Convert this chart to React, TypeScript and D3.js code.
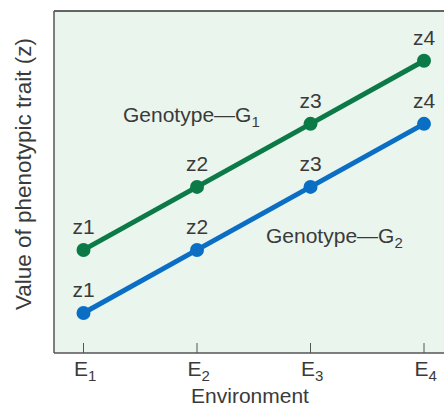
import React from "react";
import * as d3 from "d3";

const environments = ["E1", "E2", "E3", "E4"];
const envSubs = ["1", "2", "3", "4"];
const g1Values = [2, 3, 4, 5];
const g2Values = [1, 2, 3, 4];
const g1Labels = ["z1", "z2", "z3", "z4"];
const g2Labels = ["z1", "z2", "z3", "z4"];

const W = 444;
const H = 407;
const left = 54;
const top = 11;
const bottom = 353;
const right = 444;

export default function App() {
  const x = d3.scalePoint<string>().domain(environments).range([83.5, 424]);
  const y = d3.scaleLinear().domain([0.365, 5.79]).range([bottom, top]);
  const line = d3
    .line<number>()
    .x((_, i) => x(environments[i]) as number)
    .y((d) => y(d));
  const green = "#0b7a47";
  const blue = "#0a6fc4";
  const font = "'Liberation Sans', Arial, sans-serif";
  const txt = "#3a3a3a";
  const fs = 21;
  const sub = 15;

  const series = [
    { vals: g1Values, labels: g1Labels, color: green },
    { vals: g2Values, labels: g2Labels, color: blue },
  ];

  return (
    <svg
      width={W}
      height={H}
      style={{ position: "absolute", left: 0, top: 0 }}
      fontFamily={font}
    >
      <rect x={left} y={top} width={right - left} height={bottom - top} fill="#eaf5ee" />
      <line x1={left} x2={right} y1={top} y2={top} stroke="#333" strokeWidth={1.5} />
      <line x1={left} x2={left} y1={top} y2={bottom} stroke="#555" strokeWidth={1.5} />
      <line x1={left} x2={right} y1={bottom} y2={bottom} stroke="#555" strokeWidth={1.5} />
      {environments.map((e, i) => (
        <g key={e}>
          <line
            x1={x(e)}
            x2={x(e)}
            y1={bottom}
            y2={bottom - 10}
            stroke="#555"
            strokeWidth={1}
          />
          <text
            x={(x(e) as number) - 9.5}
            y={bottom + 23}
            fontSize={fs}
            fill={txt}
          >
            E
            <tspan fontSize={sub} dy={5}>
              {envSubs[i]}
            </tspan>
          </text>
        </g>
      ))}
      <text x={250} y={403} fontSize={fs} fill={txt} textAnchor="middle">
        Environment
      </text>
      <text
        transform={`translate(31, 174) rotate(-90)`}
        fontSize={22.5}
        fill={txt}
        textAnchor="middle"
      >
        Value of phenotypic trait (z)
      </text>
      {series.map((s, si) => (
        <g key={si}>
          <path d={line(s.vals) || ""} fill="none" stroke={s.color} strokeWidth={5} />
          {s.vals.map((v, i) => (
            <g key={i}>
              <circle cx={x(environments[i])} cy={y(v)} r={7} fill={s.color} />
              <text
                x={x(environments[i])}
                y={y(v) - 16}
                fontSize={fs}
                fill={txt}
                textAnchor="middle"
              >
                {s.labels[i]}
              </text>
            </g>
          ))}
        </g>
      ))}
      <text x={123} y={122} fontSize={fs} fill={txt}>
        Genotype—G
        <tspan fontSize={sub} dy={5}>
          1
        </tspan>
      </text>
      <text x={266} y={243} fontSize={fs} fill={txt}>
        Genotype—G
        <tspan fontSize={sub} dy={5}>
          2
        </tspan>
      </text>
    </svg>
  );
}
